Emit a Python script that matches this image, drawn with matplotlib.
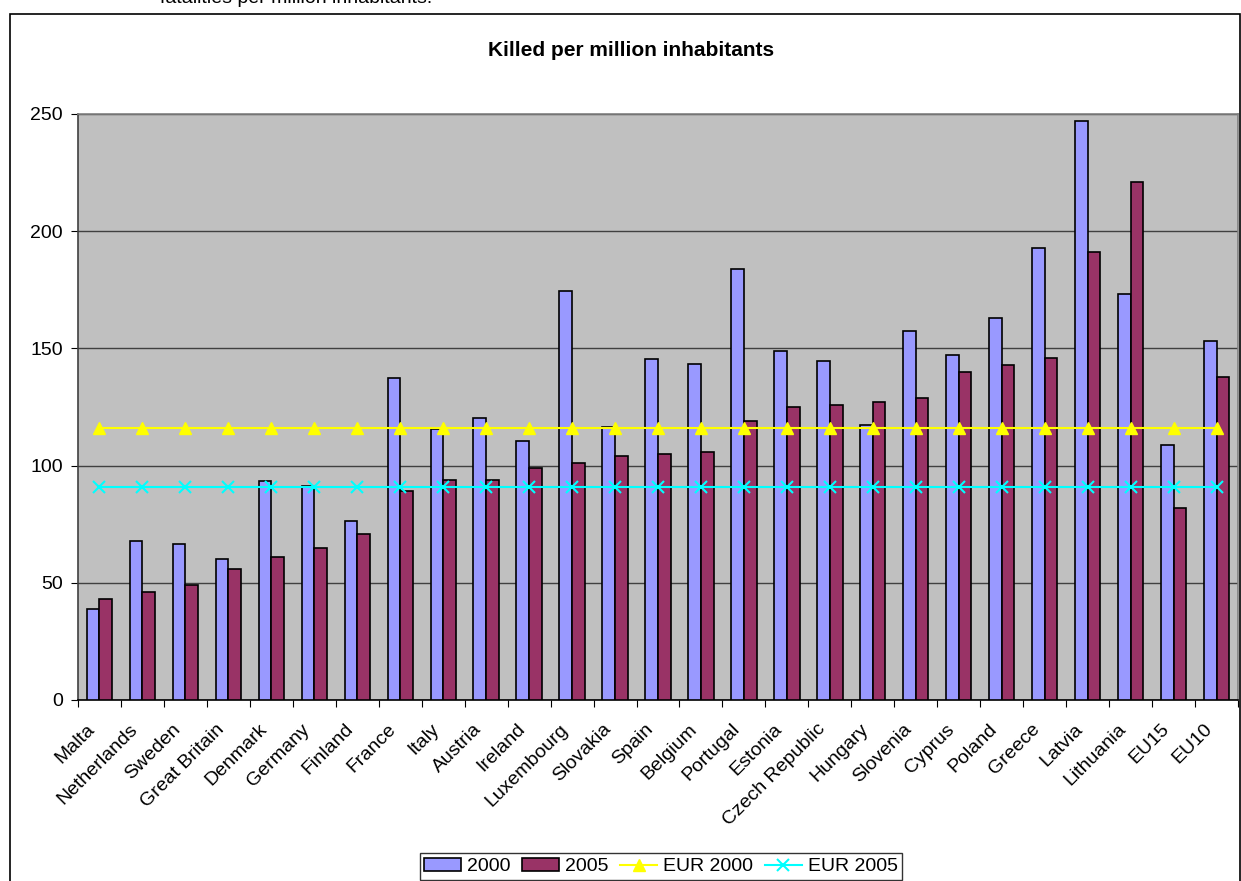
import numpy as np
import matplotlib
import matplotlib.pyplot as plt
from matplotlib.patches import Rectangle
from matplotlib.transforms import ScaledTranslation

matplotlib.use('Agg')
plt.rcParams['font.family'] = ['Liberation Sans', 'DejaVu Sans']

# killed per million inhabitants, 2000 vs 2005
countries = ['Malta', 'Netherlands', 'Sweden', 'Great Britain', 'Denmark', 'Germany',
             'Finland', 'France', 'Italy', 'Austria', 'Ireland', 'Luxembourg', 'Slovakia',
             'Spain', 'Belgium', 'Portugal', 'Estonia', 'Czech Republic', 'Hungary',
             'Slovenia', 'Cyprus', 'Poland', 'Greece', 'Latvia', 'Lithuania', 'EU15', 'EU10']
killed_2000 = [39, 68, 66.5, 60, 93.5, 91.5, 76.5, 137.5, 115.5, 120.5, 110.5, 174.5, 116.5,
               145.5, 143.5, 184, 149, 144.5, 117.5, 157.5, 147, 163, 193, 247, 173, 109, 153]
killed_2005 = [43, 46, 49, 56, 61, 65, 71, 89, 94, 94, 99, 101, 104,
               105, 106, 119, 125, 126, 127, 129, 140, 143, 146, 191, 221, 82, 138]
eur_2000 = 116
eur_2005 = 91

W, H = 1241, 881
fig = plt.figure(figsize=(W / 100, H / 100), dpi=100)

# frame around the chart object
fig.patches.append(Rectangle((10 / W, -0.1), (W - 11) / W, 1.1 - 14 / H,
                             transform=fig.transFigure, fill=False,
                             edgecolor='black', linewidth=1.2, clip_on=False))

fig.text(160 / W, 1 - 3 / H, 'fatalities per million inhabitants.', fontsize=14,
         ha='left', va='baseline')
fig.text(631 / W, 1 - 50 / H, 'Killed per million inhabitants', fontsize=15,
         fontweight='bold', ha='center', va='center')

ax = fig.add_axes([78 / W, 1 - 700 / H, 1160 / W, 586 / H])
ax.set_facecolor('#C0C0C0')

x = np.arange(len(countries))
bw = 0.295
b1 = ax.bar(x - bw / 2, killed_2000, bw, color='#9999FF', edgecolor='black',
            linewidth=1.2, label='2000', zorder=3)
b2 = ax.bar(x + bw / 2, killed_2005, bw, color='#993366', edgecolor='black',
            linewidth=1.2, label='2005', zorder=3)
l1, = ax.plot(x, [eur_2000] * len(x), color='#FFFF00', marker='^', markersize=9,
              linewidth=1.5, label='EUR 2000', zorder=4)
l2, = ax.plot(x, [eur_2005] * len(x), color='#00FFFF', marker='x', markersize=8,
              markeredgewidth=1.5, linewidth=1.5, label='EUR 2005', zorder=4)

ax.set_xlim(-0.5, len(countries) - 0.5)
ax.set_ylim(0, 250)
ax.set_yticks(range(0, 251, 50))
ax.grid(axis='y', color='#404040', linewidth=1, zorder=1)

# category ticks sit between the groups
ax.set_xticks(np.arange(-0.5, len(countries), 1.0))
ax.set_xticklabels([])
ax.set_xticks(x, minor=True)
ax.set_xticklabels(countries, minor=True, rotation=45, ha='right',
                   rotation_mode='anchor', fontsize=14)
ax.tick_params(axis='x', which='minor', length=0, pad=12)
ax.tick_params(axis='x', which='major', length=5, direction='out', color='black')
ax.tick_params(axis='y', length=5, labelsize=14, pad=6)
shift = ScaledTranslation(-0.13, -0.04, fig.dpi_scale_trans)
for lab in ax.get_xticklabels(minor=True):
    lab.set_transform(lab.get_transform() + shift)

for side in ['top', 'right']:
    ax.spines[side].set_color('#808080')
ax.spines['left'].set_color('#404040')
ax.spines['bottom'].set_color('black')
for s in ax.spines.values():
    s.set_linewidth(1.2)

leg = fig.legend([b1, b2, l1, l2], ['2000', '2005', 'EUR 2000', 'EUR 2005'],
                 loc='upper center', bbox_to_anchor=(661 / W, 1 - 853 / H), ncol=4,
                 fontsize=14, frameon=True, fancybox=False, edgecolor='black',
                 handlelength=1.9, handletextpad=0.3, columnspacing=0.6,
                 borderpad=0.25, borderaxespad=0)
leg.get_frame().set_linewidth(1.0)

fig.savefig('out.png', dpi=100)
